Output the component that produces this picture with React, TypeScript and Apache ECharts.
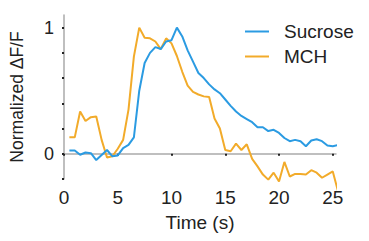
import React, { useEffect, useRef } from "react";
import * as echarts from "echarts";

const times = [
  0.5, 1, 1.5, 2, 2.5, 3, 3.5, 4, 4.5, 5, 5.5, 6, 6.5, 7, 7.5, 8, 8.5, 9, 9.5, 10,
  10.5, 11, 11.5, 12, 12.5, 13, 13.5, 14, 14.5, 15, 15.5, 16, 16.5, 17, 17.5, 18,
  18.5, 19, 19.5, 20, 20.5, 21, 21.5, 22, 22.5, 23, 23.5, 24, 24.5, 25, 25.5,
];

const sucrose = [
  0.026, 0.026, -0.008, 0.01, 0.005, -0.05, -0.01, 0.03, -0.02, -0.013, 0.045, 0.07,
  0.13, 0.5, 0.72, 0.8, 0.845, 0.83, 0.89, 0.9, 1.0, 0.93, 0.82, 0.73, 0.64, 0.6,
  0.55, 0.51, 0.48, 0.43, 0.38, 0.335, 0.3, 0.275, 0.25, 0.21, 0.21, 0.18, 0.19,
  0.165, 0.125, 0.1, 0.11, 0.1, 0.06, 0.105, 0.115, 0.1, 0.065, 0.06, 0.07,
];

const mch = [
  0.13, 0.13, 0.335, 0.26, 0.29, 0.295, 0.11, -0.03, -0.02, 0.04, 0.11, 0.35, 0.77,
  1.0, 0.92, 0.915, 0.89, 0.83, 0.915, 0.875, 0.775, 0.65, 0.54, 0.49, 0.47, 0.455,
  0.45, 0.28, 0.2, 0.03, 0.02, 0.08, 0.03, 0.075, -0.04, -0.1, -0.165, -0.205, -0.15,
  -0.22, -0.065, -0.18, -0.16, -0.16, -0.165, -0.13, -0.15, -0.19, -0.165, -0.14, -0.3,
];

const xTicks = [0, 5, 10, 15, 20, 25];
const yTicks = [-0.2, 0, 0.2, 0.4, 0.6, 0.8, 1];
const yLabels = [0, 1];

const seriesNames = ["Sucrose", "MCH"];
const colors = ["#2b9be2", "#f2ab2a"];

export default function App() {
  const ref = useRef<HTMLDivElement>(null);
  useEffect(() => {
    document.body.style.margin = "0";
    const chart = echarts.init(ref.current!, null, { renderer: "svg" });
    const font = "Liberation Sans, Arial, sans-serif";
    const textColor = "#222";
    const fs = 19;
    const dataSets = [sucrose, mch];
    chart.setOption({
      animation: false,
      textStyle: { fontFamily: font },
      grid: { left: 64, right: 33, top: 15, bottom: 62, containLabel: false },
      legend: {
        orient: "vertical",
        left: 240,
        top: 17,
        icon: "rect",
        itemWidth: 24,
        itemHeight: 2,
        itemGap: 6,
        data: seriesNames,
        textStyle: { fontSize: fs, color: textColor, fontFamily: font, padding: [0, 0, 0, 10] },
      },
      xAxis: {
        type: "value",
        min: 0,
        max: 25.3,
        name: "Time (s)",
        nameLocation: "middle",
        nameGap: 34,
        nameTextStyle: { fontSize: fs, color: textColor, fontFamily: font },
        axisLine: { show: true, lineStyle: { color: "#aaa", width: 1.5 } },
        axisTick: {
          show: true,
          length: 2,
          customValues: xTicks,
          lineStyle: { color: "#222", width: 2 },
        },
        axisLabel: {
          customValues: xTicks,
          fontSize: fs,
          color: textColor,
          margin: 9,
          fontFamily: font,
        },
        splitLine: { show: false },
      },
      yAxis: {
        type: "value",
        min: -0.2,
        max: 1.1,
        name: "Normalized ΔF/F",
        nameLocation: "middle",
        nameGap: 38,
        nameTextStyle: { fontSize: 17.5, color: textColor, fontFamily: font },
        axisLine: { show: true, lineStyle: { color: "#aaa", width: 1.5 } },
        axisTick: {
          show: true,
          length: 2,
          customValues: yTicks,
          lineStyle: { color: "#222", width: 2 },
        },
        axisLabel: {
          customValues: yLabels,
          fontSize: 18,
          color: textColor,
          margin: 10,
          fontFamily: font,
        },
        splitLine: { show: false },
      },
      series: seriesNames.map((name, i) => ({
        name,
        type: "line",
        symbol: "none",
        clip: false,
        color: colors[i],
        lineStyle: { width: 2, color: colors[i] },
        data: times.map((t, j) => [t, dataSets[i][j]]),
        z: i === 0 ? 3 : 2,
      })),
    });
    return () => chart.dispose();
  }, []);
  return <div ref={ref} style={{ width: 369, height: 241 }} />;
}
